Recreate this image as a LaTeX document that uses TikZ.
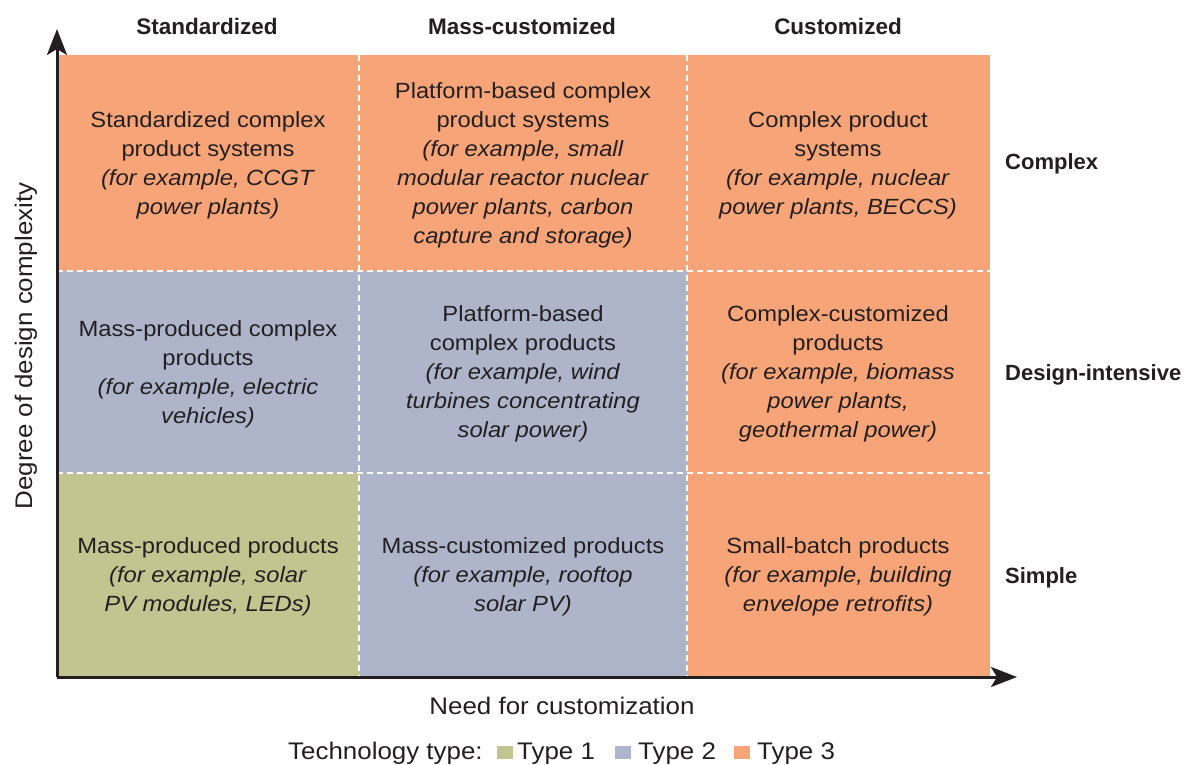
\documentclass[tikz,border=0pt]{standalone}
\usepackage{fontspec}
\setmainfont{Liberation Sans}[FakeStretch=1.08]
\newfontfamily\headfont{Liberation Sans}
\usetikzlibrary{arrows.meta}
\definecolor{typeone}{HTML}{C2C590}
\definecolor{typetwo}{HTML}{AEB4CA}
\definecolor{typethree}{HTML}{F7A578}
\definecolor{ink}{HTML}{231F20}

\begin{document}
\begin{tikzpicture}[x=1pt, y=-1pt, every node/.style={text=ink, inner sep=0pt},
  celltext/.style={align=center, font=\fontsize{22}{29}\selectfont},
  colhead/.style={anchor=base, font=\headfont\bfseries\fontsize{22.5}{27}\selectfont},
  rowhead/.style={anchor=base west, font=\headfont\bfseries\fontsize{22}{27}\selectfont},
  axislabel/.style={font=\fontsize{24}{29}\selectfont},
  legendbox/.style={anchor=south west, minimum width=16pt, minimum height=13pt},
  divider/.style={white, line width=2pt, dash pattern=on 6pt off 4pt},
  axisline/.style={ink, line width=3pt, -{Stealth[length=26pt, width=20pt, inset=6pt]}}]
  \useasboundingbox (0,0) rectangle (1184,764);
  % cells
  \fill[typethree] (57,55) rectangle (990,271);
  \fill[typethree] (687,271) rectangle (990,677);
  \fill[typetwo] (57,271) rectangle (687,473);
  \fill[typetwo] (359,473) rectangle (687,677);
  \fill[typeone] (57,473) rectangle (359,677);
  \draw[divider] (359,55) -- (359,677);
  \draw[divider] (687,55) -- (687,677);
  \draw[divider] (57,271) -- (990,271);
  \draw[divider] (57,473) -- (990,473);
  % axes
  \coordinate (origin) at (57,677);
  \coordinate (xend) at (1017,677);
  \coordinate (yend) at (57,29);
  \draw[axisline] (origin) -- (xend);
  \draw[axisline] (origin) -- (yend);
  \node[axislabel, rotate=90] (ylabel) at (26,346) {Degree of design complexity};
  \node[axislabel, anchor=base] (xlabel) at (562,714) {Need for customization};
  % headers
  \node[colhead] (hstd) at (207,34) {Standardized};
  \node[colhead] (hmass) at (522,34) {Mass-customized};
  \node[colhead] (hcust) at (838,34) {Customized};
  \node[rowhead] (hcomplex) at (1005,169) {Complex};
  \node[rowhead] (hdesign) at (1005,380) {Design-intensive};
  \node[rowhead] (hsimple) at (1005,583) {Simple};
  % cell texts
  \node[celltext] (stdsys) at (208,165) {Standardized complex\\product systems\\\textit{(for example, CCGT}\\\textit{power plants)}};
  \node[celltext] (platsys) at (523,165) {Platform-based complex\\product systems\\\textit{(for example, small}\\\textit{modular reactor nuclear}\\\textit{power plants, carbon}\\\textit{capture and storage)}};
  \node[celltext] (custsys) at (838,165) {Complex product\\systems\\\textit{(for example, nuclear}\\\textit{power plants, BECCS)}};
  \node[celltext] (massprod) at (208,374) {Mass-produced complex\\products\\\textit{(for example, electric}\\\textit{vehicles)}};
  \node[celltext] (platprod) at (523,374) {Platform-based\\complex products\\\textit{(for example, wind}\\\textit{turbines concentrating}\\\textit{solar power)}};
  \node[celltext] (custprod) at (838,374) {Complex-customized\\products\\\textit{(for example, biomass}\\\textit{power plants,}\\\textit{geothermal power)}};
  \node[celltext] (masssimple) at (208,577) {Mass-produced products\\\textit{(for example, solar}\\\textit{PV modules, LEDs)}};
  \node[celltext] (mcsimple) at (523,577) {Mass-customized products\\\textit{(for example, rooftop}\\\textit{solar PV)}};
  \node[celltext] (batch) at (838,577) {Small-batch products\\\textit{(for example, building}\\\textit{envelope retrofits)}};
  % legend
  \node[axislabel, anchor=base west] (legtitle) at (288,759) {Technology type:};
  \node[legendbox, fill=typeone] (boxone) at (497,759) {};
  \node[axislabel, anchor=base west] (legone) at (517,759) {Type 1};
  \node[legendbox, fill=typetwo] (boxtwo) at (615,759) {};
  \node[axislabel, anchor=base west] (legtwo) at (638,759) {Type 2};
  \node[legendbox, fill=typethree] (boxthree) at (734,759) {};
  \node[axislabel, anchor=base west] (legthree) at (757,759) {Type 3};
\end{tikzpicture}
\end{document}
